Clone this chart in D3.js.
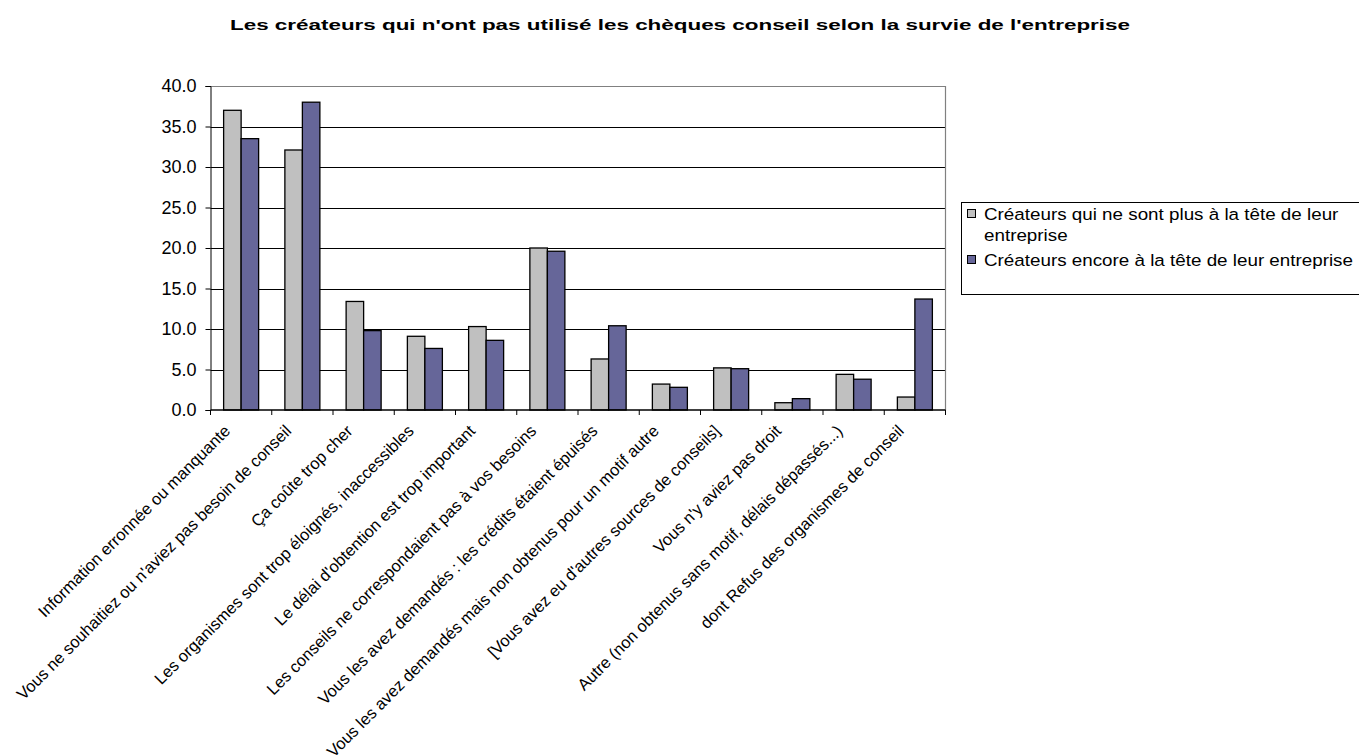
<!DOCTYPE html>
<html lang="fr">
<head>
<meta charset="utf-8">
<script src="https://cdn.jsdelivr.net/npm/d3@7"></script>
<style>
  html, body { margin: 0; padding: 0; background: #fff; }
  svg { display: block; font-family: "Liberation Sans", Arial, sans-serif; }
</style>
</head>
<body>
<svg id="chart" width="1359" height="755"></svg>
<script>
// Reasons given for not using the "chèques conseil", by company survival
const categories = [
  "Information erronnée ou manquante",
  "Vous ne souhaitiez ou n'aviez pas besoin de conseil",
  "Ça coûte trop cher",
  "Les organismes sont trop éloignés, inaccessibles",
  "Le délai d'obtention est trop important",
  "Les conseils ne correspondaient pas à vos besoins",
  "Vous les avez demandés : les crédits étaient épuisés",
  "Vous les avez demandés mais non obtenus pour un motif autre",
  "[Vous avez eu d'autres sources de conseils]",
  "Vous n'y aviez pas droit",
  "Autre (non obtenus sans motif, délais dépassés...)",
  "dont Refus des organismes de conseil"
];
const seriesNames = [
  "Créateurs qui ne sont plus à la tête de leur entreprise",
  "Créateurs encore à la tête de leur entreprise"
];
const notSurviving = [37.0, 32.1, 13.4, 9.1, 10.3, 20.0, 6.3, 3.2, 5.2, 0.9, 4.4, 1.6];
const surviving    = [33.5, 38.0, 9.8, 7.6, 8.6, 19.6, 10.4, 2.8, 5.1, 1.4, 3.8, 13.7];
const yTicks = [0, 5, 10, 15, 20, 25, 30, 35, 40];
const chartTitle = "Les créateurs qui n'ont pas utilisé les chèques conseil selon la survie de l'entreprise";

const colors = ["#C0C0C0", "#666699"];
const seriesValues = [notSurviving, surviving];

const svg = d3.select("#chart");
const plot = { left: 210.5, right: 945.5, top: 86, bottom: 410 };

const x0 = d3.scaleBand().domain(categories).range([plot.left, plot.right]).padding(0);
const x1 = d3.scaleBand().domain(d3.range(seriesNames.length))
  .range([0, x0.bandwidth()]).paddingInner(0).paddingOuter(0.75);
const y = d3.scaleLinear().domain([0, 40]).range([plot.bottom, plot.top]);

// Title (wide bold lettering)
svg.append("text")
  .attr("x", 680).attr("y", 30)
  .attr("text-anchor", "middle")
  .attr("font-weight", "bold")
  .attr("font-size", 15.5)
  .attr("textLength", 900)
  .attr("lengthAdjust", "spacingAndGlyphs")
  .text(chartTitle);

// Horizontal gridlines
svg.append("g").selectAll("line")
  .data(yTicks.filter(t => t > 0 && t < 40))
  .join("line")
  .attr("x1", plot.left).attr("x2", plot.right)
  .attr("y1", d => Math.round(y(d)) + 0.5).attr("y2", d => Math.round(y(d)) + 0.5)
  .attr("stroke", "#000").attr("stroke-width", 1);

// Plot area frame (top and right edges)
svg.append("path")
  .attr("d", `M${plot.left},${plot.top + 0.5}H${plot.right}V${plot.bottom}`)
  .attr("fill", "none").attr("stroke", "#808080").attr("stroke-width", 1.2);

// Bars
const groups = svg.append("g").selectAll("g")
  .data(categories)
  .join("g")
  .attr("transform", d => `translate(${x0(d)},0)`);

groups.selectAll("rect")
  .data((d, i) => seriesValues.map((vals, s) => ({ s, v: vals[i] })))
  .join("rect")
  .attr("x", d => x1(d.s))
  .attr("width", x1.bandwidth())
  .attr("y", d => y(d.v))
  .attr("height", d => y(0) - y(d.v))
  .attr("fill", d => colors[d.s])
  .attr("stroke", "#000").attr("stroke-width", 1.3);

// Y axis
const yAxis = svg.append("g")
  .attr("transform", `translate(${plot.left},0)`)
  .call(d3.axisLeft(y).tickValues(yTicks).tickFormat(d3.format(".1f")).tickSize(5).tickPadding(9));
yAxis.select(".domain").attr("stroke", "#000");
yAxis.selectAll(".tick line").attr("stroke", "#000");
yAxis.selectAll("text")
  .attr("font-size", 18).attr("fill", "#000")
  .attr("font-family", "'Liberation Sans', Arial, sans-serif");

// X axis line and category separators
const xAxis = svg.append("g").attr("transform", `translate(0,${plot.bottom})`);
xAxis.append("line")
  .attr("x1", plot.left).attr("x2", plot.right)
  .attr("stroke", "#000").attr("stroke-width", 1.3);
xAxis.selectAll("line.sep")
  .data(d3.range(categories.length + 1))
  .join("line").attr("class", "sep")
  .attr("x1", i => plot.left + i * x0.step()).attr("x2", i => plot.left + i * x0.step())
  .attr("y1", 0).attr("y2", 5)
  .attr("stroke", "#000").attr("stroke-width", 1);

// Rotated category labels
xAxis.selectAll("text")
  .data(categories)
  .join("text")
  .attr("transform", d => `translate(${x0(d) + x0.bandwidth() / 2 - 10},22) rotate(-45)`)
  .attr("text-anchor", "end")
  .attr("font-size", 16.5)
  .text(d => d);

// Legend
const legend = svg.append("g").attr("transform", "translate(961,202)");
legend.append("rect")
  .attr("x", 0.5).attr("y", 0.5).attr("width", 420).attr("height", 92)
  .attr("fill", "#fff").attr("stroke", "#000").attr("stroke-width", 1);

const legendLines = [
  ["Créateurs qui ne sont plus à la tête de leur", "entreprise"],
  ["Créateurs encore à la tête de leur entreprise"]
];
const legendRows = [7, 53];
legendLines.forEach((lines, s) => {
  legend.append("rect")
    .attr("x", 6.5).attr("y", legendRows[s] + 0.5).attr("width", 8).attr("height", 8)
    .attr("fill", colors[s]).attr("stroke", "#000").attr("stroke-width", 1);
  lines.forEach((t, k) => {
    legend.append("text")
      .attr("transform", `translate(23,${legendRows[s] + 11 + k * 21}) scale(1.14,1)`)
      .attr("font-size", 16.5)
      .text(t);
  });
});
</script>
</body>
</html>
